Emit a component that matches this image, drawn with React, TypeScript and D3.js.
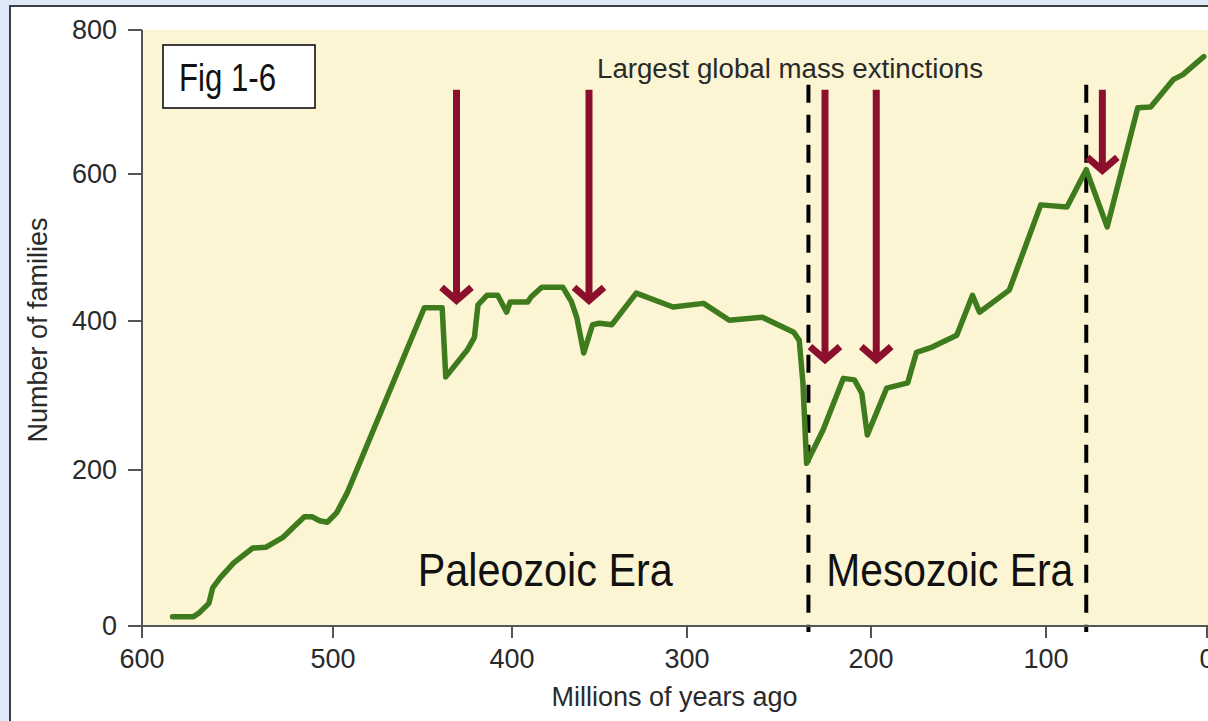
import React from "react";
import * as d3 from "d3";

// ---- data ----
const ages = [584, 573, 570, 565, 563, 559, 552, 542, 535, 526, 521, 515, 511, 507, 503, 498, 492, 449, 439, 437, 425, 421, 419, 414, 408, 403, 401, 391, 389, 383, 371, 366, 363, 359, 354, 350, 343, 329, 308, 291, 277, 259, 242, 239, 237, 235, 226, 215, 209, 205, 202, 191, 179, 177, 174, 165, 151, 142, 138, 121, 103, 87, 75, 62, 43, 35, 21, 15, 2];
const families = [12, 12, 17, 29, 49, 62, 81, 100, 101, 114, 126, 140, 140, 135, 133, 145, 171, 418, 418, 325, 361, 378, 422, 435, 435, 412, 426, 426, 433, 446, 446, 426, 405, 357, 395, 397, 395, 438, 419, 424, 401, 405, 385, 374, 317, 209, 254, 323, 321, 303, 247, 310, 317, 334, 358, 365, 381, 435, 412, 442, 558, 555, 606, 528, 692, 693, 731, 738, 763];

const extinctionAges = [431, 356, 225, 197, 65];
const extinctionTips = [424, 424, 344, 344, 601];
const arrowTop = 717;

const eraBoundaries = [234, 75];
const eraBoundaryTop = 724;
const eraNames = ["Paleozoic Era", "Mesozoic Era"];
const eraLabelAges = [381, 155];
const eraLabelLengths = [255, 247];

const xTicks = [600, 500, 400, 300, 200, 100, 0];
const yTicks = [0, 200, 400, 600, 800];

const xTitle = "Millions of years ago";
const yTitle = "Number of families";
const noteText = "Largest global mass extinctions";
const figLabel = "Fig 1-6";

// ---- layout ----
const W = 1208;
const H = 721;
const xPix = [142, 333, 512, 687, 871, 1046, 1207];
const yPix = [626, 470, 321, 174, 30];

const FONT = "'Liberation Sans', Arial, Helvetica, sans-serif";
const TEXT = "#2a2a2a";
const AXIS = "#555";
const GREEN = "#3e7b1d";
const RED = "#8c0f2e";

export default function App() {
  const x = d3.scaleLinear().domain(xTicks).range(xPix);
  const y = d3.scaleLinear().domain(yTicks).range(yPix);

  const pts: [number, number][] = ages.map((a, i) => [a, families[i]]);
  const line = d3
    .line<[number, number]>()
    .x((d) => x(d[0]))
    .y((d) => y(d[1]));

  const x0 = x(600);
  const xEnd = x(0);
  const yBase = y(0);
  const yTop = y(800);

  return (
    <svg
      width={W}
      height={H}
      style={{ position: "absolute", left: 0, top: 0, display: "block" }}
    >
      {/* page background */}
      <rect x={0} y={0} width={W} height={H} fill="#dde9f6" />
      <rect x={10} y={6} width={W} height={H} fill="#ffffff" stroke="#3a3d42" strokeWidth={2} />

      {/* plot area */}
      <rect x={x0} y={yTop} width={W - x0} height={yBase - yTop} fill="#fcf5d3" />

      {/* Fig label */}
      <rect x={163} y={45} width={152} height={63} fill="#fff" stroke="#111" strokeWidth={1.6} />
      <text
        x={179}
        y={91}
        fontFamily={FONT}
        fontSize={38}
        fill="#111"
        textLength={97}
        lengthAdjust="spacingAndGlyphs"
      >
        {figLabel}
      </text>

      {/* note */}
      <text
        x={597}
        y={78}
        fontFamily={FONT}
        fontSize={27}
        fill={TEXT}
        textLength={386}
        lengthAdjust="spacingAndGlyphs"
      >
        {noteText}
      </text>

      {/* era boundaries */}
      {eraBoundaries.map((b, i) => (
        <line
          key={"b" + i}
          x1={x(b)}
          x2={x(b)}
          y1={y(eraBoundaryTop)}
          y2={yBase + 6}
          stroke="#000"
          strokeWidth={4}
          strokeDasharray="18 12"
        />
      ))}

      {/* era labels */}
      {eraNames.map((n, i) => (
        <text
          key={n}
          x={x(eraLabelAges[i])}
          y={586}
          textAnchor="middle"
          fontFamily={FONT}
          fontSize={46}
          fill="#111"
          textLength={eraLabelLengths[i]}
          lengthAdjust="spacingAndGlyphs"
        >
          {n}
        </text>
      ))}

      {/* curve */}
      <path
        d={line(pts) || ""}
        fill="none"
        stroke={GREEN}
        strokeWidth={5.5}
        strokeLinejoin="round"
        strokeLinecap="round"
      />

      {/* extinction arrows */}
      {extinctionAges.map((a, i) => {
        const ax = x(a);
        const tip = y(extinctionTips[i]);
        const top = y(arrowTop);
        return (
          <g key={"a" + i}>
            <line x1={ax} x2={ax} y1={top} y2={tip - 5} stroke={RED} strokeWidth={7} />
            <path
              d={`M${ax - 15},${tip - 16} L${ax},${tip - 3} L${ax + 15},${tip - 16}`}
              fill="none"
              stroke={RED}
              strokeWidth={7}
              strokeLinejoin="miter"
            />
          </g>
        );
      })}

      {/* axes */}
      <line x1={x0} x2={x0} y1={yTop} y2={yBase + 12} stroke={AXIS} strokeWidth={2} />
      <line x1={x0 - 14} x2={W} y1={yBase} y2={yBase} stroke={AXIS} strokeWidth={2} />
      {yTicks.map((t) => (
        <g key={"y" + t}>
          <line x1={x0 - 14} x2={x0} y1={y(t)} y2={y(t)} stroke={AXIS} strokeWidth={2} />
          <text
            x={x0 - 25}
            y={y(t) + 9}
            textAnchor="end"
            fontFamily={FONT}
            fontSize={27}
            fill={TEXT}
          >
            {t}
          </text>
        </g>
      ))}
      {xTicks.map((t) => (
        <g key={"x" + t}>
          <line x1={x(t)} x2={x(t)} y1={yBase} y2={yBase + 12} stroke={AXIS} strokeWidth={2} />
          <text
            x={x(t)}
            y={668}
            textAnchor="middle"
            fontFamily={FONT}
            fontSize={27}
            fill={TEXT}
          >
            {t}
          </text>
        </g>
      ))}
      <text
        x={(x0 + xEnd) / 2}
        y={706}
        textAnchor="middle"
        fontFamily={FONT}
        fontSize={27}
        fill={TEXT}
      >
        {xTitle}
      </text>
      <text
        transform={`translate(47,330) rotate(-90)`}
        textAnchor="middle"
        fontFamily={FONT}
        fontSize={27}
        fill={TEXT}
      >
        {yTitle}
      </text>
    </svg>
  );
}
